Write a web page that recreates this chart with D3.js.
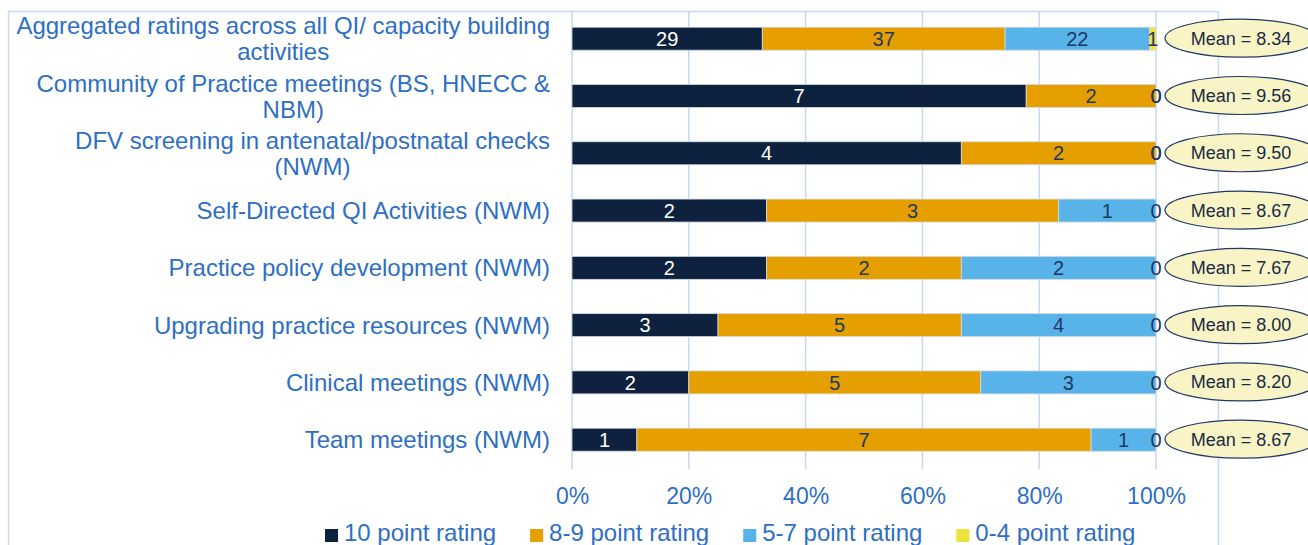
<!DOCTYPE html>
<html>
<head>
<meta charset="utf-8">
<script src="https://cdn.jsdelivr.net/npm/d3@7"></script>
<style>
  body { margin: 0; background: #fff; }
  svg { display: block; font-family: "Liberation Sans", Arial, sans-serif; }
</style>
</head>
<body>
<svg id="chart" width="1308" height="545"></svg>
<script>
    var categories = [
        ['Aggregated ratings across all QI/ capacity building', 'activities'],
        ['Community of Practice meetings (BS, HNECC &', 'NBM)'],
        ['DFV screening in antenatal/postnatal checks', '(NWM)'],
        ['Self-Directed QI Activities (NWM)'],
        ['Practice policy development (NWM)'],
        ['Upgrading practice resources (NWM)'],
        ['Clinical meetings (NWM)'],
        ['Team meetings (NWM)']
    ];
    var seriesNames = ['10 point rating', '8-9 point rating', '5-7 point rating', '0-4 point rating'];
    var rating10 = [29, 7, 4, 2, 2, 3, 2, 1];
    var rating89 = [37, 2, 2, 3, 2, 5, 5, 7];
    var rating57 = [22, 0, 0, 1, 2, 4, 3, 1];
    var rating04 = [1, 0, 0, 0, 0, 0, 0, 0];
    var means = ['8.34', '9.56', '9.50', '8.67', '7.67', '8.00', '8.20', '8.67'];
    var xTicks = [0, 0.2, 0.4, 0.6, 0.8, 1];

    var colors = ['#0e2240', '#e5a000', '#58b3e8', '#f0e13c'],
        labelColors = ['#ffffff', '#1f3864', '#1f3864', '#1f3864'],
        textBlue = '#2e6fc4',
        gridColor = '#c6d9f1',
        barHeight = 23;

    var svg = d3.select('#chart');
    var keys = categories.map(function(c, i) { return 'c' + i; });

    var x = d3.scaleLinear().domain([0, 1]).range([572, 1156]);
    var y = d3.scalePoint().domain(keys).range([38.7, 439.7]);

    // frame lines round the chart
    svg.append('path')
        .attr('d', 'M8.5,545V11.5H1218.5V545')
        .attr('fill', 'none')
        .attr('stroke', gridColor)
        .attr('stroke-width', 1.5);

    // gridlines
    svg.append('g').selectAll('line')
        .data(xTicks)
        .enter()
        .append('line')
            .attr('x1', function(d) { return x(d); })
            .attr('x2', function(d) { return x(d); })
            .attr('y1', 11)
            .attr('y2', 469)
            .attr('stroke', gridColor)
            .attr('stroke-width', 1.5);

    // x axis labels
    var xAxis = d3.axisBottom(x).tickValues(xTicks).tickFormat(d3.format('.0%')).tickSize(0).tickPadding(0);
    var axisG = svg.append('g').attr('transform', 'translate(0,488)').call(xAxis);
    axisG.select('.domain').remove();
    axisG.selectAll('text')
        .attr('fill', textBlue)
        .attr('font-size', 23)
        .attr('font-family', '"Liberation Sans", Arial, sans-serif');

    // stacked rows
    var rows = categories.map(function(c, i) {
        var vals = [rating10[i], rating89[i], rating57[i], rating04[i]],
            total = d3.sum(vals),
            acc = 0;
        return vals.map(function(v, s) {
            var seg = {key: keys[i], series: s, value: v, x0: acc / total, x1: (acc + v) / total};
            acc += v;
            return seg;
        });
    });
    var segments = d3.merge(rows);

    svg.append('g').selectAll('rect')
        .data(segments.filter(function(d) { return d.value > 0; }))
        .enter()
        .append('rect')
            .attr('x', function(d) { return x(d.x0); })
            .attr('width', function(d) { return x(d.x1) - x(d.x0); })
            .attr('y', function(d) { return y(d.key) - barHeight / 2; })
            .attr('height', barHeight)
            .attr('fill', function(d) { return colors[d.series]; })
            .attr('stroke', '#d3dae5')
            .attr('stroke-width', 0.8);

    svg.append('g').selectAll('text')
        .data(segments)
        .enter()
        .append('text')
            .attr('x', function(d) { return (x(d.x0) + x(d.x1)) / 2; })
            .attr('y', function(d) { return y(d.key); })
            .attr('dy', '0.36em')
            .attr('text-anchor', 'middle')
            .attr('font-size', 20)
            .attr('fill', function(d) { return labelColors[d.series]; })
            .text(function(d) { return d.value; });

    // category labels, wrapped lines centred on the longest line
    var labelRight = 550,
        lineGap = 26;
    categories.forEach(function(lines, i) {
        var g = svg.append('g');
        var texts = lines.map(function(line, j) {
            return g.append('text')
                .attr('y', y(keys[i]) + (j - (lines.length - 1) / 2) * lineGap)
                .attr('dy', '0.36em')
                .attr('font-size', 24)
                .attr('fill', textBlue)
                .text(line);
        });
        var widths = texts.map(function(t) { return t.node().getComputedTextLength(); }),
            maxW = d3.max(widths);
        texts.forEach(function(t) {
            t.attr('text-anchor', 'middle').attr('x', labelRight - maxW / 2);
        });
    });

    // mean callouts
    var meanG = svg.append('g').selectAll('g')
        .data(means)
        .enter()
        .append('g')
            .attr('transform', function(d, i) { return 'translate(1241,' + (y(keys[i]) - 0.5) + ')'; });
    meanG.append('ellipse')
        .attr('rx', 76)
        .attr('ry', 19)
        .attr('fill', '#f8f4c6')
        .attr('stroke', '#1f3864')
        .attr('stroke-width', 1.2);
    meanG.append('text')
        .attr('text-anchor', 'middle')
        .attr('dy', '0.36em')
        .attr('font-size', 18)
        .attr('fill', '#1a2a44')
        .text(function(d) { return 'Mean = ' + d; });

    // legend (cut by the bottom edge, as in the source)
    var legendX = 325;
    seriesNames.forEach(function(name, s) {
        svg.append('rect')
            .attr('x', legendX)
            .attr('y', 529)
            .attr('width', 13)
            .attr('height', 13)
            .attr('fill', colors[s]);
        var t = svg.append('text')
            .attr('x', legendX + 19)
            .attr('y', 541)
            .attr('font-size', 24)
            .attr('fill', textBlue)
            .text(name);
        legendX += 19 + t.node().getComputedTextLength() + 34;
    });
</script>
</body>
</html>
